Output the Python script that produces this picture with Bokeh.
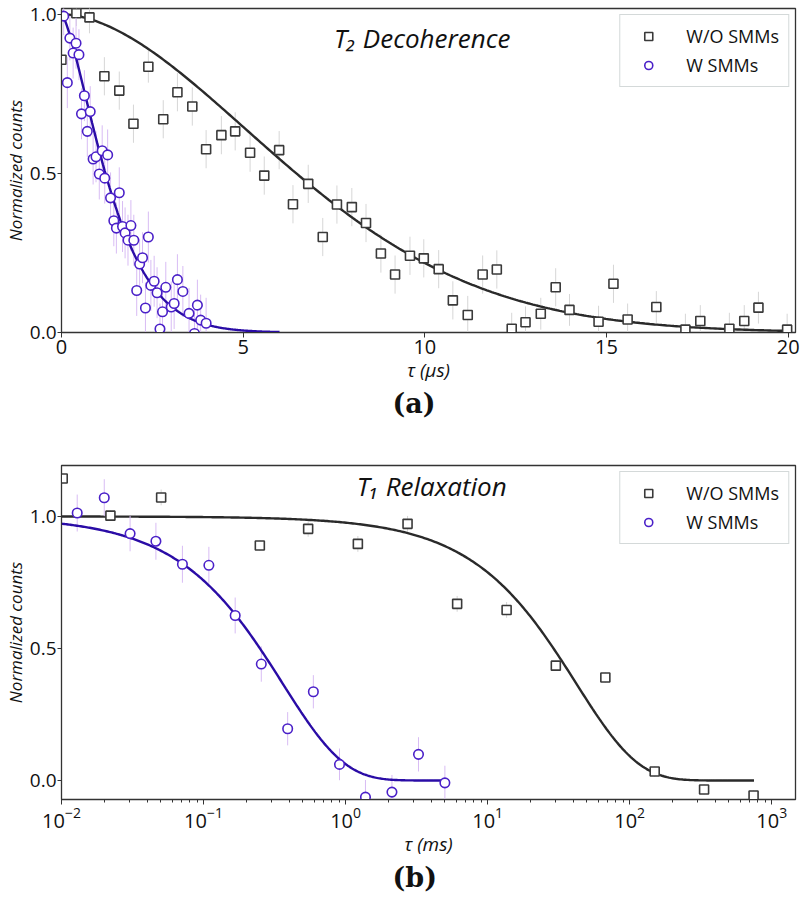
import numpy as np
from bokeh.plotting import figure
from bokeh.models import (ColumnDataSource, Label, Title, Legend, LegendItem,
                          Range1d, FixedTicker, NumeralTickFormatter)
from bokeh.layouts import column
from bokeh.embed import file_html
from bokeh.resources import INLINE

# ---------------- T2 decoherence (tau in microseconds) ----------------
t2_wo_tau = [0.0, 0.41, 0.77, 1.18, 1.59, 1.98, 2.39, 2.80, 3.19, 3.60, 3.98, 4.40,
             4.78, 5.19, 5.58, 5.99, 6.37, 6.79, 7.19, 7.58, 7.99, 8.38, 8.79, 9.18,
             9.59, 9.97, 10.38, 10.77, 11.18, 11.59, 11.98, 12.39, 12.77, 13.19, 13.60,
             13.98, 14.78, 15.19, 15.58, 16.37, 17.17, 17.58, 18.38, 18.79, 19.18, 19.97]
t2_wo_counts = [0.857, 1.003, 0.990, 0.805, 0.760, 0.656, 0.835, 0.670, 0.755, 0.710,
                0.576, 0.620, 0.632, 0.565, 0.493, 0.573, 0.403, 0.467, 0.300, 0.402,
                0.394, 0.344, 0.248, 0.182, 0.241, 0.233, 0.199, 0.101, 0.055, 0.182,
                0.198, 0.012, 0.032, 0.059, 0.142, 0.071, 0.034, 0.153, 0.041, 0.080,
                0.009, 0.036, 0.012, 0.036, 0.078, 0.009]
t2_wo_err = [0.05, 0.04, 0.05, 0.06, 0.06, 0.06, 0.05, 0.06, 0.06, 0.06, 0.06, 0.06,
             0.06, 0.06, 0.06, 0.06, 0.06, 0.06, 0.06, 0.06, 0.06, 0.06, 0.06, 0.06,
             0.06, 0.06, 0.06, 0.06, 0.06, 0.06, 0.06, 0.05, 0.05, 0.05, 0.06, 0.05,
             0.05, 0.06, 0.05, 0.05, 0.05, 0.05, 0.05, 0.05, 0.05, 0.05]

t2_w_tau = [0.06, 0.16, 0.23, 0.32, 0.40, 0.48, 0.55, 0.63, 0.71, 0.79, 0.87, 0.95,
            1.04, 1.12, 1.19, 1.27, 1.35, 1.44, 1.51, 1.59, 1.68, 1.75, 1.83, 1.91,
            1.99, 2.07, 2.15, 2.23, 2.31, 2.39, 2.46, 2.55, 2.63, 2.71, 2.78, 2.87,
            3.02, 3.10, 3.19, 3.34, 3.51, 3.66, 3.74, 3.83, 3.98]
t2_w_counts = [0.994, 0.785, 0.925, 0.878, 0.909, 0.873, 0.687, 0.744, 0.632, 0.694,
               0.545, 0.552, 0.498, 0.571, 0.485, 0.558, 0.423, 0.351, 0.328, 0.439,
               0.333, 0.313, 0.290, 0.336, 0.290, 0.132, 0.215, 0.235, 0.077, 0.300,
               0.148, 0.161, 0.125, 0.011, 0.065, 0.142, 0.080, 0.091, 0.166, 0.129,
               0.060, -0.003, 0.086, 0.039, 0.029]
t2_w_err = [0.06, 0.08, 0.07, 0.08, 0.08, 0.08, 0.08, 0.08, 0.08, 0.08, 0.08, 0.08,
            0.08, 0.08, 0.08, 0.08, 0.08, 0.08, 0.08, 0.08, 0.08, 0.08, 0.08, 0.08,
            0.08, 0.08, 0.08, 0.08, 0.08, 0.08, 0.08, 0.08, 0.08, 0.08, 0.08, 0.08,
            0.08, 0.08, 0.08, 0.08, 0.08, 0.08, 0.08, 0.08, 0.08]

# ---------------- T1 relaxation (tau in milliseconds) ----------------
t1_wo_tau = [0.0102, 0.0221, 0.0503, 0.249, 0.545, 1.22, 2.73, 6.1, 13.6, 30.2,
             67.4, 150.0, 334.0, 745.0]
t1_wo_counts = [1.144, 1.003, 1.072, 0.890, 0.953, 0.896, 0.972, 0.669, 0.646,
                0.435, 0.390, 0.034, -0.034, -0.057]
t1_wo_err = [0.02, 0.02, 0.03, 0.02, 0.03, 0.03, 0.03, 0.03, 0.03, 0.02, 0.02,
             0.02, 0.02, 0.02]

t1_w_tau = [0.0129, 0.020, 0.0304, 0.0462, 0.071, 0.109, 0.167, 0.255, 0.391,
            0.593, 0.906, 1.38, 2.12, 3.26, 5.0]
t1_w_counts = [1.013, 1.071, 0.935, 0.906, 0.819, 0.815, 0.625, 0.441, 0.196,
               0.336, 0.061, -0.063, -0.044, 0.099, -0.009]
t1_w_err = [0.07, 0.07, 0.067, 0.07, 0.07, 0.07, 0.068, 0.067, 0.063, 0.063,
            0.06, 0.065, 0.065, 0.065, 0.065]

# fit parameters for exp(-(tau/T)^n): (T, n)
fit_t2_wo = (7.92, 1.8)
fit_t2_w = (1.57, 1.4)
fit_t1_wo = (42.0, 1.0)
fit_t1_w = (0.36, 1.0)

GRAY_EDGE = "#3a3a3a"
GRAY_LINE = "#2a2a2a"
GRAY_ERR = "#d6d6d6"
PURPLE_EDGE = "#4a20c8"
PURPLE_LINE = "#2a0ca6"
PURPLE_ERR = "#d8bcf4"
FONT = "Open Sans"
INK = "#111111"


def decay(tau, params):
    T, n = params
    return np.exp(-(np.asarray(tau) / T) ** n)


def err_source(tau, counts, err):
    c = np.asarray(counts)
    e = np.asarray(err)
    return ColumnDataSource(dict(x=tau, lo=c - e, hi=c + e))


def style_axes(p):
    for ax in (p.xaxis[0], p.yaxis[0]):
        ax.major_label_text_font = FONT
        ax.major_label_text_font_size = "20px"
        ax.major_label_text_color = INK
        ax.axis_label_text_font = FONT
        ax.axis_label_text_font_size = "19px"
        ax.axis_label_text_font_style = "italic"
        ax.axis_label_text_color = INK
        ax.axis_line_color = "#333333"
        ax.major_tick_line_color = "#333333"
        ax.minor_tick_line_color = "#333333"
        ax.major_tick_in = 0
        ax.major_tick_out = 5
        ax.minor_tick_in = 0
        ax.major_label_standoff = 2
        ax.axis_label_standoff = 0
    p.yaxis.major_tick_out = 4
    p.yaxis.major_label_standoff = 1
    p.yaxis.major_label_text_font_size = "19px"
    p.yaxis.axis_label_text_font_size = "17px"
    p.grid.visible = False
    p.outline_line_color = "#333333"
    p.outline_line_width = 1.3


def add_series(p, tau, counts, err, fit_tau, params, marker, edge, line, ecol):
    es = err_source(tau, counts, err)
    p.segment(x0="x", y0="lo", x1="x", y1="hi", source=es, line_color=ecol, line_width=1)
    p.line(fit_tau, decay(fit_tau, params), line_color=line, line_width=2.4)
    src = ColumnDataSource(dict(x=tau, y=counts))
    return p.scatter("x", "y", source=src, marker=marker,
                     size=9 if marker == "square" else 9.5,
                     fill_color="white", line_color=edge, line_width=1.6)


def add_legend(p, r_wo, r_w):
    lg = Legend(items=[LegendItem(label="W/O SMMs", renderers=[r_wo]),
                       LegendItem(label="W SMMs", renderers=[r_w])],
                location="top_right")
    lg.label_text_font = FONT
    lg.label_text_font_size = "18px"
    lg.label_text_color = INK
    lg.border_line_color = "#a9b4b4"
    lg.border_line_width = 1.5
    lg.background_fill_color = "white"
    lg.background_fill_alpha = 1.0
    lg.padding = 9
    lg.margin = 6
    lg.spacing = 5
    lg.glyph_width = 38
    lg.glyph_height = 20
    lg.label_height = 20
    lg.label_standoff = 19
    p.add_layout(lg)


def panel_tag(text):
    return Title(text=text, align="left", offset=331, standoff=0,
                 text_font="DejaVu Serif", text_font_style="bold",
                 text_font_size="27px", text_color=INK)


# ---------------- panel (a) ----------------
pa = figure(width=805, height=440, output_backend="svg", toolbar_location=None,
            x_range=Range1d(0, 20.2), y_range=Range1d(0, 1.018),
            min_border_left=60, min_border_right=10, min_border_top=8,
            min_border_bottom=108)
style_axes(pa)
pa.xaxis.ticker = FixedTicker(ticks=[0, 5, 10, 15, 20])
pa.yaxis.ticker = FixedTicker(ticks=[0, 0.5, 1.0])
pa.yaxis.formatter = NumeralTickFormatter(format="0.0")
pa.xaxis.minor_tick_out = 0
pa.yaxis.minor_tick_out = 0
pa.xaxis.axis_label = "τ (μs)"
pa.yaxis.axis_label = "Normalized counts"

ra_wo = add_series(pa, t2_wo_tau, t2_wo_counts, t2_wo_err, np.linspace(0, 20, 300),
                   fit_t2_wo, "square", GRAY_EDGE, GRAY_LINE, GRAY_ERR)
ra_w = add_series(pa, t2_w_tau, t2_w_counts, t2_w_err, np.linspace(0, 6, 300),
                  fit_t2_w, "circle", PURPLE_EDGE, PURPLE_LINE, PURPLE_ERR)
add_legend(pa, ra_wo, ra_w)
pa.add_layout(Label(x=7.5, y=0.925, text="T₂ Decoherence", text_font=FONT,
                    text_font_style="italic", text_font_size="26px",
                    text_baseline="middle", text_color=INK))
pa.add_layout(panel_tag("(a)"), "below")

# ---------------- panel (b) ----------------
pb = figure(width=805, height=473, output_backend="svg", toolbar_location=None,
            x_axis_type="log", x_range=Range1d(0.01, 1470), y_range=Range1d(-0.072, 1.193),
            min_border_left=60, min_border_right=4, min_border_top=25,
            min_border_bottom=114)
style_axes(pb)
pb.yaxis.ticker = FixedTicker(ticks=[0, 0.5, 1.0])
pb.yaxis.formatter = NumeralTickFormatter(format="0.0")
pb.yaxis.minor_tick_out = 0
pb.xaxis.minor_tick_out = 3
pb.xaxis.axis_label = "τ (ms)"
pb.yaxis.axis_label = "Normalized counts"

rb_wo = add_series(pb, t1_wo_tau, t1_wo_counts, t1_wo_err, np.logspace(-2, np.log10(750), 400),
                   fit_t1_wo, "square", GRAY_EDGE, GRAY_LINE, GRAY_ERR)
rb_w = add_series(pb, t1_w_tau, t1_w_counts, t1_w_err, np.logspace(-2, np.log10(5), 300),
                  fit_t1_w, "circle", PURPLE_EDGE, PURPLE_LINE, PURPLE_ERR)
add_legend(pb, rb_wo, rb_w)
pb.add_layout(Label(x=1.2, y=1.114, text="T₁ Relaxation", text_font=FONT,
                    text_font_style="italic", text_font_size="26px",
                    text_baseline="middle", text_color=INK))
pb.add_layout(panel_tag("(b)"), "below")

layout = column(pa, pb, spacing=0)
open("out.html", "w").write(file_html(layout, INLINE))
